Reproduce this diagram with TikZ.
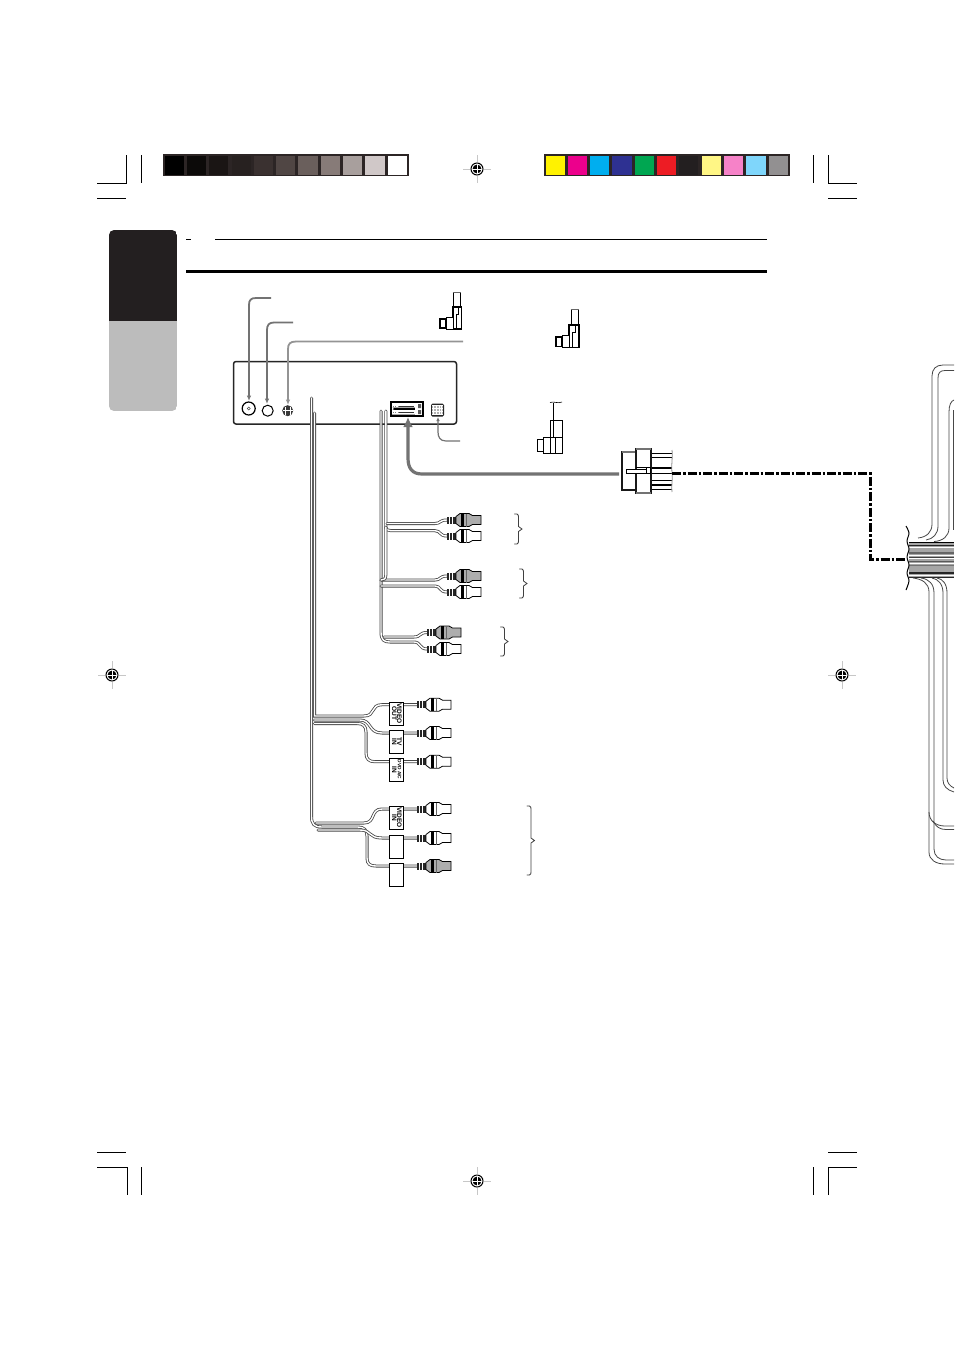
\documentclass[tikz,border=0pt]{standalone}
\usepackage{fontspec}
\setmainfont{Liberation Sans}
\usetikzlibrary{arrows.meta}
\begin{document}
\begin{tikzpicture}[x=1pt,y=-1pt,line join=miter,
  crop/.style={black,line width=1pt},
  lead/.style={draw=black!55,line width=1.8pt,-{Latex[length=5.5pt,width=4.5pt]}},
  wire/.style={draw=black!72,line width=0.8pt,double=white,double distance=1.4pt,line cap=round},
  plugline/.style={black,line width=1pt},
  vbox/.style={draw=black,line width=0.8pt,fill=white,minimum width=14pt,inner sep=0pt,align=center,font=\bfseries\fontsize{6.5}{6.5}\selectfont},
  bigbrace/.style={black!75,line width=0.8pt,line cap=round}]
\useasboundingbox (0,0) rectangle (954,1350);
\fill[white] (0,0) rectangle (954,1350);

% registration marks
\newcommand\regmark[2]{\begin{scope}[shift={(#1,#2)}]
  \draw[black!22,line width=1pt] (-14,0)--(14,0) (0,-14)--(0,14);
  \fill[white] (0,0) circle (7);
  \draw[black,line width=1pt] (0,0) circle (6);
  \fill[black] (0,0) circle (4.4);
  \draw[white,line width=1pt] (-5,0)--(5,0) (0,-5)--(0,5);
\end{scope}}
\regmark{477}{169}\regmark{112}{675}\regmark{842}{675}\regmark{477}{1181}

% crop marks
\draw[crop] (97,183.5)--(126.5,183.5)--(126.5,155) (141.5,155)--(141.5,183) (97,198)--(126,198);
\draw[crop] (813.5,155)--(813.5,183) (828.5,155)--(828.5,183.5)--(857,183.5) (828,198)--(857,198);
\draw[crop] (97,1152)--(126,1152) (97,1167)--(127,1167)--(127,1195) (141.5,1167)--(141.5,1195);
\draw[crop] (813.5,1167)--(813.5,1195) (828,1195)--(828,1167)--(857,1167) (828,1152)--(857,1152);

% colour bars
\definecolor{barframe}{HTML}{2C2525}
\fill[barframe] (163,154) rectangle (409,176);
\fill[barframe] (544,154) rectangle (790,176);
\foreach \x/\w/\cc in {165/19/000000,187/19/0C0A09,209/19/1A1514,232/19/272120,254/19/3A3130,276/19/504644,298/20/6A5F5C,321/19/877B78,343/19/A89F9D,365/20/D0C8C8,388/19/FFFFFF,
546/19/FFF200,568/19/EC008C,590/19/00AEEF,612/20/2E3192,635/19/00A651,657/19/ED1C24,679/19/231F20,702/19/FFF685,724/19/F682C8,746/20/7FD6FB,769/19/929091}{
  \definecolor{sw}{HTML}{\cc}
  \fill[sw] (\x,156) rectangle ++(\w,19);
}

% side tab
\definecolor{tabdark}{HTML}{231F20}
\definecolor{tablight}{HTML}{BCBCBC}
\begin{scope}
  \clip[rounded corners=5pt] (109,230) rectangle (177,411);
  \fill[tabdark] (109,230) rectangle (177,321);
  \fill[tablight] (109,321) rectangle (177,411);
\end{scope}

% header rules
\draw[black,line width=1pt] (186,239.5)--(191,239.5) (215,239.5)--(767,239.5);
\draw[black,line width=2.2pt] (186,271.5)--(767,271.5);

% head unit
\draw[black!85,line width=1.5pt,rounded corners=2.5pt] (233.5,361.5) rectangle (456.5,424);
\draw[black,line width=1.2pt] (248.7,408.5) circle (6.5);
\draw[black!70,line width=0.5pt] (248.7,408.5) circle (1.5);
\draw[black,line width=1pt] (267.7,410.7) circle (5.5);
\fill[black!78] (287.7,410.7) circle (5.5);
\draw[white,line width=0.5pt] (283,410)--(292.5,410) (285.5,407)--(285.5,415) (289.8,407)--(289.8,415);
% large socket
\fill[black] (390,401) rectangle (424,416.5);
\fill[white] (392,403) -- (415,403) -- (415,407.5) -- (392,407.5) -- (394,409) -- (392,410) -- (415,410) -- (415,414.5) -- (392,414.5) -- cycle;
\fill[white] (415,403) rectangle (422,414.5);
\fill[black!65] (418,404) rectangle (421,408) (418,410) rectangle (421,414);
\draw[black!80,line width=0.7pt] (399,406.5)--(414,406.5) (399,412.5)--(414,412.5);
\draw[black!50,line width=0.4pt,dotted] (393,406.5)--(399,406.5) (393,412.5)--(399,412.5);
% small socket
\fill[black!85,rounded corners=1.5pt] (431,403.5) rectangle (444,416.5);
\fill[white!70!black] (432.3,404.8) rectangle (442.7,415.2);
\foreach \i in {0,...,3}{
  \draw[white,line width=0.9pt] (433.2+\i*2.9,404.8)--(433.2+\i*2.9,415.2);
  \draw[white,line width=0.9pt] (432.3,405.7+\i*2.9)--(442.7,405.7+\i*2.9);
}

% leads to sockets
\draw[lead] (271,298) -- (256,298) .. controls (251,298) and (249,300) .. (249,305) -- (249,401);
\draw[lead] (293,322.5) -- (274,322.5) .. controls (269,322.5) and (267,325) .. (267,330) -- (267,404);
\draw[lead,draw=black!42] (463,341.5) -- (296,341.5) .. controls (290,341.5) and (288,344) .. (288,349) -- (288,405);
\draw[lead,line width=1.2pt,-{Latex[length=4pt,width=3.5pt]}] (460,441) -- (446,441) .. controls (440,441) and (438,437) .. (438,432) -- (438,417);
\draw[draw=black!55,line width=3.2pt,-{Latex[length=10pt,width=10pt]}] (619,474) -- (422,474) .. controls (412,474) and (408,468) .. (408,458) -- (408,417);

% L-shaped plugs
\newcommand\lplug[7]{% x body left, y body top, width, height, cable x, cable top, cable w
  \draw[plugline,line width=0.7pt,fill=white] (#5,#6) rectangle ++(#7,{#2-#6});
  \draw[black!60,line width=0.7pt] (#5-0.5,#6)--(#5+#7+0.5,#6);
  \draw[plugline,line width=1.4pt,fill=white] (#1,#2) rectangle ++(#3,#4);
  \draw[plugline,fill=white] (#1-7,#2+10) rectangle (#1,#2+#4);
  \draw[plugline,line width=1.3pt,fill=white] (#1-13,#2+12) rectangle (#1-7,#2+#4-1);
  \draw[black,line width=0.6pt] (#1+#3-3.5,#2) -- (#1+#3-3.5,#2+7) -- (#1+3,#2+7) -- (#1+3,#2+#4);
}
\lplug{453}{307}{8.5}{22}{453}{292}{7}
\lplug{569}{325}{10}{22.5}{571}{309}{7}
% third plug
\draw[plugline,line width=0.7pt] (553,403)--(553,420);
\draw[black,line width=0.6pt] (550,402.5) .. controls (554,401) and (558,404) .. (562,402);
\draw[plugline,fill=white] (550,420.5) rectangle (562,453.5);
\draw[plugline,fill=white] (543,437) rectangle (550,453);
\draw[plugline,fill=white] (537,439.5) rectangle (543,451.5);
\draw[black,line width=0.8pt] (550,437)--(562,437) (553,420.5)--(553,437) (555,437)--(555,453.5);

% main connector
\foreach \yy/\lw in {453/0.9,457/0.9,468/2,473/0.9,480/0.9,485/2,489/0.9}{
  \draw[black,line width=\lw pt] (651,\yy)--(672,\yy);
}
\draw[black!45,line width=0.8pt] (672,450) .. controls (673,458) and (671,464) .. (672,472) .. controls (673,480) and (671,486) .. (672,492);
\draw[black!90,line width=1.1pt,fill=white] (622,452) rectangle (636,490);
\draw[black!55,line width=1.1pt] (622,452)--(636,452);
\draw[black!90,line width=1.1pt,fill=white] (636,449) rectangle (651,493);
\draw[black!55,line width=1.1pt] (636,449)--(651,449) (636,493)--(651,493);
\draw[black,line width=0.8pt] (636,467)--(651,467) (636,473)--(651,473);
\draw[black,line width=0.8pt,fill=white] (626,469) rectangle (646,473);
\draw[black,line width=0.8pt] (646,467) rectangle (650,473);
% dash-dot line
\draw[black,line width=3pt,dash pattern=on 9pt off 2pt on 2.5pt off 2pt] (672,473) -- (870,473) -- (870,559) -- (905,559);

% harness (right)
\fill[black!35] (909,543) rectangle (954,577);
\foreach \yy/\lw/\cc in {542.5/1.6/black,545.5/0.9/black!85,547.5/1/white,553/1.6/black!60,555/1/white,557/0.8/black!75,558.8/1/white,561/0.8/black!65,563/0.7/white,565/0.8/black!55,573/1.7/black!85,575/0.8/white,577.5/1/black!85}{
  \draw[\cc,line width=\lw pt] (909,\yy)--(954,\yy);
}
\fill[white] (909,578.2) rectangle (954,581);
\begin{scope}[black!72,line width=0.8pt]
  \draw (954,365) -- (943,365) .. controls (936,365) and (932,369) .. (932,376) -- (932,524) .. controls (932,532) and (927,537) .. (918,538);
  \draw (954,370.5) -- (945,370.5) .. controls (940,370.5) and (938,373) .. (938,378) -- (938,526) .. controls (938,534) and (933,539) .. (926,540);
  \draw (954,400) .. controls (951,401) and (949,405) .. (949,412) -- (949,528) .. controls (949,536) and (943,541) .. (934,541.5);
  \draw (953.6,410) -- (953.6,530);
  \draw (913,578) .. controls (922,579) and (929,583) .. (929,592) -- (929,852) .. controls (929,860) and (936,864) .. (945,864) -- (954,864);
  \draw (921,578) .. controls (929,579) and (934,584) .. (934,593) -- (934,849) .. controls (934,856) and (939,860) .. (946,860) -- (954,860);
  \draw (932,578) .. controls (938,579) and (943,584) .. (943,593) -- (943,780) .. controls (943,786) and (947,790) .. (954,792);
  \draw (937,578) .. controls (943,579) and (947,584) .. (947,593) -- (947,778) .. controls (947,783) and (950,786) .. (954,788);
  \draw (929,812) .. controls (929,821) and (936,826) .. (945,826) -- (954,826);
  \draw (933,821) .. controls (936,827) and (940,829.5) .. (946,829.5) -- (954,829.5);
\end{scope}
\draw[black,line width=1pt] plot[smooth] coordinates {(906,526) (909,533) (907,541) (909,549) (907,557) (909,565) (907,573) (909,581) (906,590)};

% RCA plug: #1 x, #2 y, #3 fill
\newcommand\rcaplug[3]{\begin{scope}[shift={(#1,#2)}]
  \fill[black!85] (0,-3.5) rectangle (9,3.5);
  \draw[white,line width=0.6pt] (2.5,-3.5)--(2.5,3.5) (5.5,-3.5)--(5.5,3.5);
  \draw[black,line width=0.8pt,fill=#3] (9,-3.5)--(13,-6.5)--(22,-6.5)--(25.5,-4.5)--(34,-4.5)--(34,4.5)--(25.5,4.5)--(22,6.5)--(13,6.5)--(9,3.5)--cycle;
  \fill[black] (13.5,-6.5) rectangle (16.5,6.5);
  \draw[black!60,line width=0.5pt] (19,-6.5)--(19,6.5);
\end{scope}}
\colorlet{plugg}{black!32}

% audio wires
\draw[wire] (381,411) -- (381,632) .. controls (381,640) and (384,642) .. (390,642) -- (414,642) .. controls (421,642) and (419,649) .. (427,649);
\draw[wire] (384,637) -- (414,637) .. controls (421,637) and (419,632.5) .. (427,632.5);
\draw[wire] (381,586) -- (435,586) .. controls (441,586) and (439,592) .. (447,592);
\draw[wire] (381,580) .. controls (381,580) and (383,580) .. (386,580) -- (435,580) .. controls (441,580) and (439,576) .. (447,576);
\draw[wire] (385.8,411) -- (385.8,526) .. controls (385.8,530) and (388,530.7) .. (391,530.7) -- (435,530.7) .. controls (441,530.7) and (439,536) .. (447,536);
\draw[wire] (387,523.5) -- (435,523.5) .. controls (441,523.5) and (439,520) .. (447,520);
\draw[wire] (385.8,527) -- (385.8,575) .. controls (385.8,579) and (384,580) .. (381,580);
\rcaplug{447}{520}{plugg}\rcaplug{447}{536}{white}
\rcaplug{447}{576}{plugg}\rcaplug{447}{592}{white}
\rcaplug{427}{632.5}{plugg}\rcaplug{427}{649}{white}

% braces
\newcommand\sbrace[3]{% x, ytop, ybottom
  \draw[bigbrace] (#1,#2) -- (#1+2.5,#2) .. controls (#1+4,#2) and (#1+4,#2+2) .. (#1+4,#2+4) -- (#1+4,{(#2+#3)/2-2.5}) -- (#1+7.5,{(#2+#3)/2}) -- (#1+4,{(#2+#3)/2+2.5}) -- (#1+4,#3-4) .. controls (#1+4,#3-2) and (#1+4,#3) .. (#1+2.5,#3) -- (#1,#3);
}
\sbrace{514.5}{514}{544}
\sbrace{519.5}{569}{598}
\sbrace{500.5}{627}{656}
\sbrace{527}{806}{875}

% video wires
\draw[wire] (311.5,398) -- (311.5,816) .. controls (311.5,824) and (314,827) .. (322,827) -- (358,827) .. controls (364,827) and (367,830) .. (367,836) -- (367,858) .. controls (367,864) and (370,866) .. (376,866) -- (418,866);
\draw[wire] (314.5,413) -- (314.5,716) -- (364,716) .. controls (376,716) and (370,704.7) .. (382,704.7) -- (418,704.7);
\draw[wire] (314.5,720) -- (360,720) .. controls (372,720) and (368,733) .. (382,733) -- (418,733);
\draw[wire] (314.5,723.5) -- (357,723.5) .. controls (363,723.5) and (366,726) .. (366,732) -- (366,753) .. controls (366,759) and (369,761.7) .. (375,761.7) -- (418,761.7);
\draw[wire] (316,823) -- (364,823) .. controls (376,823) and (370,809) .. (382,809) -- (418,809);
\draw[wire] (318,830) -- (360,830) .. controls (372,830) and (368,838) .. (382,838) -- (418,838);

% boxes
\node[vbox,minimum height=23pt] (bvo) at (396,713.5) {\rotatebox{-90}{\begin{tabular}{@{}c@{}}VIDEO\\[-1.5pt]OUT\end{tabular}}};
\node[vbox,minimum height=23pt] (btv) at (396,741.5) {\rotatebox{-90}{\begin{tabular}{@{}c@{}}TV\\[-1.5pt]IN\end{tabular}}};
\node[vbox,minimum height=23pt,font=\bfseries\fontsize{4.8}{5}\selectfont] (bdvd) at (396,769.5) {\rotatebox{-90}{\begin{tabular}{@{}c@{}}DVD A/C\\[0pt]{\fontsize{6.5}{6.5}\selectfont IN}\end{tabular}}};
\node[vbox,minimum height=23pt] (bvi) at (396,817.5) {\rotatebox{-90}{\begin{tabular}{@{}c@{}}VIDEO\\[-1.5pt]IN\end{tabular}}};
\node[vbox,minimum height=23pt] (bx1) at (396,846.5) {};
\node[vbox,minimum height=23pt] (bx2) at (396,874.5) {};

\rcaplug{417}{704.7}{white}\rcaplug{417}{733}{white}\rcaplug{417}{761.7}{white}
\rcaplug{417}{809}{white}\rcaplug{417}{838}{white}\rcaplug{417}{866}{plugg}
\end{tikzpicture}
\end{document}
